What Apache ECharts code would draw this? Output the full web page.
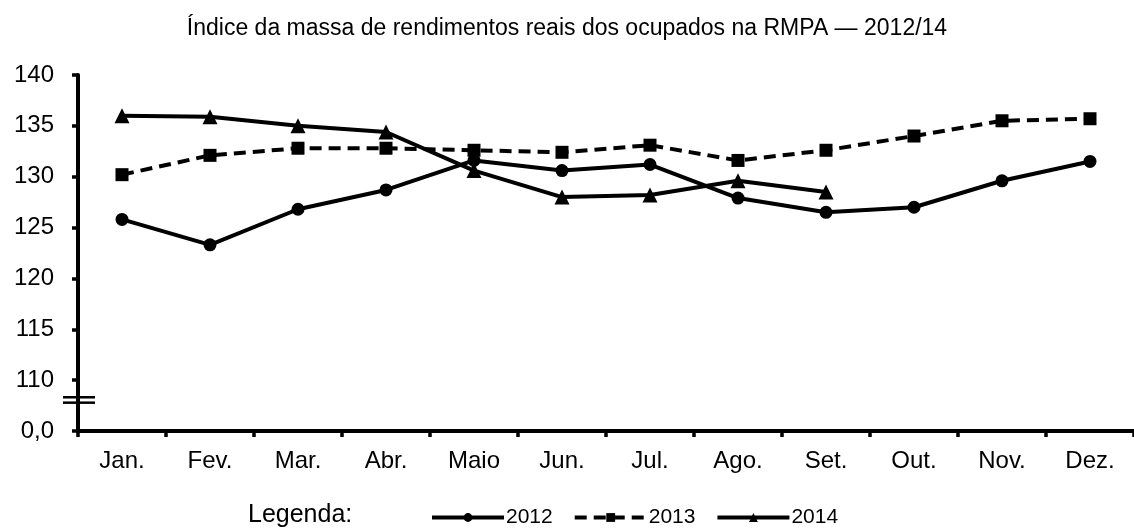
<!DOCTYPE html>
<html>
<head>
<meta charset="utf-8">
<script src="https://cdn.jsdelivr.net/npm/echarts@6/dist/echarts.min.js"></script>
<style>
  html, body { margin: 0; padding: 0; background: #fff; }
  #chart { width: 1134px; height: 528px; }
</style>
</head>
<body>
<div id="chart"></div>
<script>
// data
const months = ['Jan.', 'Fev.', 'Mar.', 'Abr.', 'Maio', 'Jun.', 'Jul.', 'Ago.', 'Set.', 'Out.', 'Nov.', 'Dez.'];
const values2012 = [125.8, 123.3, 126.8, 128.7, 131.6, 130.6, 131.2, 127.9, 126.5, 127.0, 129.6, 131.5];
const values2013 = [130.2, 132.1, 132.8, 132.8, 132.6, 132.4, 133.1, 131.6, 132.6, 134.0, 135.5, 135.7];
const values2014 = [136.0, 135.9, 135.0, 134.4, 130.6, 128.0, 128.2, 129.6, 128.5];
// the bottom tick (105) stands for the broken-axis "0,0"
const axisBreakValue = 105;
const breakMarkValue = 108.05;

const font = 'Liberation Sans, Arial, sans-serif';
const chart = echarts.init(document.getElementById('chart'), null, { renderer: 'canvas' });

function lineSeries(name, data, symbol, dashed) {
  return {
    name: name,
    type: 'line',
    data: data,
    symbol: symbol,
    symbolSize: symbol === 'triangle' ? 15 : 13,
    showSymbol: true,
    animation: false,
    lineStyle: { color: '#000', width: 4, type: dashed ? [12, 7] : 'solid' },
    itemStyle: { color: '#000' },
    emphasis: { disabled: true }
  };
}

chart.setOption({
  animation: false,
  title: [
    {
      text: 'Índice da massa de rendimentos reais dos ocupados na RMPA — 2012/14',
      left: 'center',
      top: 17,
      padding: 0,
      textStyle: { fontFamily: font, fontSize: 23, fontWeight: 'normal', color: '#000' }
    },
    {
      text: 'Legenda:',
      left: 248,
      top: 503,
      padding: 0,
      textStyle: { fontFamily: font, fontSize: 25, fontWeight: 'normal', color: '#000' }
    }
  ],
  legend: {
    left: 430,
    top: 507,
    padding: 0,
    itemWidth: 72,
    itemHeight: 11,
    itemGap: 20,
    selectedMode: false,
    lineStyle: { width: 4 },
    textStyle: { fontFamily: font, fontSize: 21, color: '#000', padding: [2, 0, 0, -3] },
    data: ['2012', '2013', '2014']
  },
  grid: { left: 78, top: 75, width: 1064, bottom: 97, containLabel: false },
  xAxis: {
    type: 'category',
    data: months,
    boundaryGap: true,
    axisLine: { lineStyle: { color: '#000', width: 4 } },
    axisTick: { show: true, length: 6, lineStyle: { color: '#000', width: 3.5 } },
    axisLabel: { color: '#000', fontFamily: font, fontSize: 24, margin: 18 },
    splitLine: { show: false }
  },
  yAxis: {
    type: 'value',
    min: axisBreakValue,
    max: 140,
    interval: 5,
    axisLine: { show: true, lineStyle: { color: '#000', width: 4 } },
    axisTick: { show: true, length: 6, lineStyle: { color: '#000', width: 3.5 } },
    axisLabel: {
      color: '#000', fontFamily: font, fontSize: 24, margin: 24,
      formatter: (v) => (v === axisBreakValue ? '0,0' : String(v))
    },
    splitLine: { show: false }
  },
  series: [
    lineSeries('2012', values2012, 'circle', false),
    lineSeries('2013', values2013, 'rect', true),
    lineSeries('2014', values2014, 'triangle', false)
  ]
});

// axis break mark "=" across the y axis
const breakPt = chart.convertToPixel({ gridIndex: 0 }, [0, breakMarkValue]);
const gridLeft = 78;
chart.setOption({
  graphic: [
    { type: 'line', shape: { x1: gridLeft - 15, y1: breakPt[1] - 2.7, x2: gridLeft + 17, y2: breakPt[1] - 2.7 }, style: { stroke: '#000', lineWidth: 2.5 } },
    { type: 'line', shape: { x1: gridLeft - 15, y1: breakPt[1] + 2.7, x2: gridLeft + 17, y2: breakPt[1] + 2.7 }, style: { stroke: '#000', lineWidth: 2.5 } }
  ]
});
</script>
</body>
</html>
